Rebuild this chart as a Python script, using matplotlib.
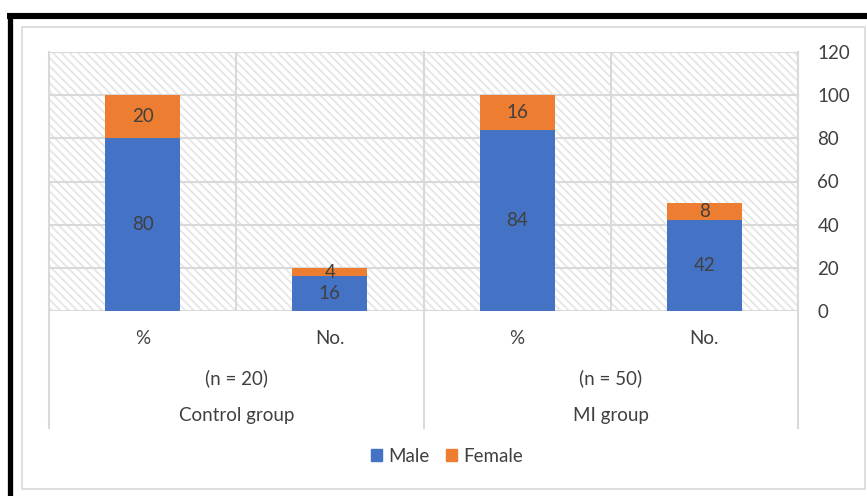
import matplotlib
matplotlib.use("Agg")
import matplotlib.pyplot as plt
from matplotlib.patches import Rectangle, Patch
from matplotlib.lines import Line2D

plt.rcParams['font.family'] = ['Lato', 'DejaVu Sans']
plt.rcParams['hatch.linewidth'] = 1.3

categories = ["%", "No.", "%", "No."]
groups = ["Control group", "MI group"]
group_n = ["(n = 20)", "(n = 50)"]
male = [80, 16, 84, 42]
female = [20, 4, 16, 8]
yticks = [0, 20, 40, 60, 80, 100, 120]

BLUE = "#4472C4"
ORANGE = "#ED7D31"
TXT = "#404040"
GRID = "#d9d9d9"
FS = 13.5

W, H = 867, 496
fig = plt.figure(figsize=(W / 100, H / 100), dpi=100)
fig.patch.set_facecolor("white")

# frames
fig.add_artist(Rectangle((22 / W, 1 - 489 / H), (865 - 22) / W, (489 - 27) / H,
                         transform=fig.transFigure, fill=False, edgecolor=GRID, lw=1.2))
fig.add_artist(Line2D([7 / W, 1.0], [1 - 16 / H, 1 - 16 / H], transform=fig.transFigure,
                      color="black", lw=4.4, solid_capstyle="butt"))
fig.add_artist(Line2D([9.5 / W, 9.5 / W], [1 - 13 / H, 0], transform=fig.transFigure,
                      color="black", lw=3.8, solid_capstyle="butt"))

ax = fig.add_axes([49 / W, 1 - 311 / H, 749 / W, 259 / H])
ax.set_facecolor("white")
ax.add_patch(Rectangle((0, 0), 1, 1, transform=ax.transAxes, facecolor="white",
                       edgecolor="#e6e6e6", hatch="\\" * 4, lw=0, zorder=0))

x = list(range(len(categories)))
ax.bar(x, male, width=0.4, color=BLUE, zorder=3)
ax.bar(x, female, bottom=male, width=0.4, color=ORANGE, zorder=3)

for i in x:
    ax.text(i, male[i] / 2, str(male[i]), ha="center", va="center", color=TXT,
            fontsize=FS, zorder=4)
    ax.text(i, male[i] + female[i] / 2, str(female[i]), ha="center", va="center",
            color=TXT, fontsize=FS, zorder=4)

ax.set_xlim(-0.5, len(categories) - 0.5)
ax.set_ylim(0, 120)
ax.set_yticks(yticks)
ax.yaxis.tick_right()
ax.tick_params(axis="y", length=0, pad=14, labelsize=FS, labelcolor=TXT)
ax.set_xticks([])
for y in yticks:
    ax.axhline(y, color=GRID, lw=1.5, zorder=1)
for s in ax.spines.values():
    s.set_visible(False)

trans = ax.get_xaxis_transform()
# inner vertical separators
for b in [0.5, 2.5]:
    ax.plot([b, b], [0, 1], transform=trans, color=GRID, lw=1.5, zorder=1)
# group separators extending down
for b in [-0.5, 1.5, 3.5]:
    ax.plot([b, b], [-117 / 259, 1], transform=trans, color=GRID, lw=1.5, zorder=1,
            clip_on=False)

for i, c in enumerate(categories):
    ax.text(i, -27 / 259, c, transform=trans, ha="center", va="center", fontsize=FS,
            color=TXT)
for g in range(len(groups)):
    cx = 2 * g + 0.5
    ax.text(cx, -67 / 259, group_n[g], transform=trans, ha="center", va="center",
            fontsize=FS, color=TXT)
    ax.text(cx, -105 / 259, groups[g], transform=trans, ha="center", va="center",
            fontsize=FS, color=TXT)

handles = [Patch(color=BLUE, label="Male"), Patch(color=ORANGE, label="Female")]
fig.legend(handles=handles, loc="center", bbox_to_anchor=(447 / W, 1 - 456 / H), ncol=2,
           frameon=False, fontsize=FS, handlelength=0.6, handleheight=0.6,
           handletextpad=0.3, columnspacing=0.9, labelcolor=TXT)

fig.savefig("out.png", dpi=100)
